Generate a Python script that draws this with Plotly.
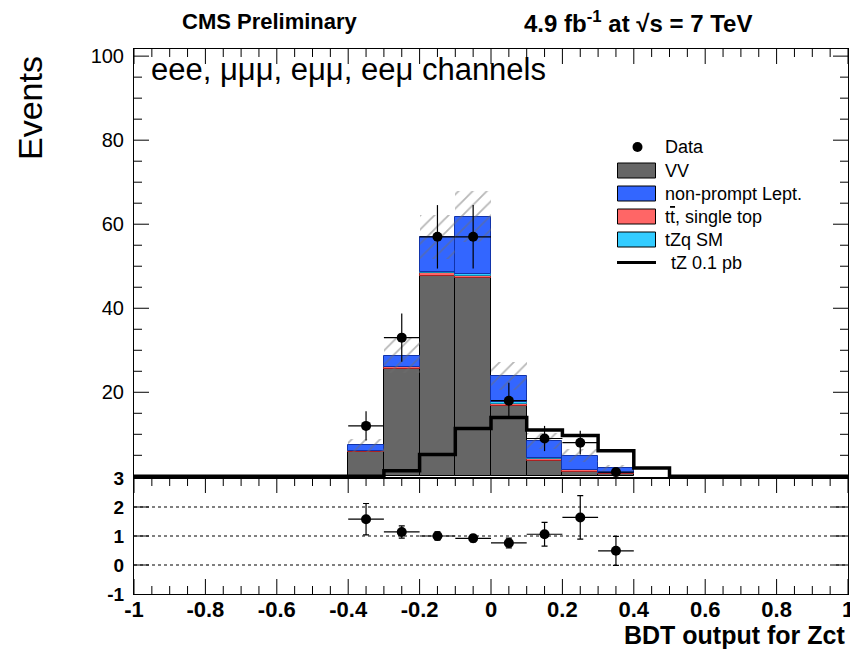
import numpy as np
import plotly.graph_objects as go

# ---------------- data ----------------
bin_width = 0.1
mc_centers = [-0.35, -0.25, -0.15, -0.05, 0.05, 0.15, 0.25, 0.35]
vv = [5.9, 25.5, 47.6, 47.1, 16.7, 3.7, 1.1, 0.6]
ttbar = [0.1, 0.4, 0.7, 0.5, 0.4, 0.4, 0.4, 0.1]
tzq = [0.05, 0.2, 0.3, 0.6, 0.7, 0.3, 0.1, 0.05]
nonprompt = [1.35, 2.6, 8.4, 13.6, 6.1, 4.0, 3.3, 1.25]
syst = [1.6, 4.2, 5.3, 6.1, 3.4, 2.0, 1.6, 0.8]
data = [12, 33, 57, 57, 18, 9, 8, 1]

tz_edges = [round(-1 + 0.1 * i, 2) for i in range(21)]
tz_signal = [0, 0, 0, 0, 0, 0, 0, 1.35, 5.2, 11.4, 14.0, 11.0, 9.7, 6.1, 2.0, 0, 0, 0, 0, 0]

ratio = [1.58, 1.14, 1.00, 0.92, 0.76, 1.06, 1.64, 0.49]
ratio_err = [0.54, 0.21, 0.14, 0.12, 0.17, 0.41, 0.75, 0.50]

x_ticks = [-1, -0.8, -0.6, -0.4, -0.2, 0, 0.2, 0.4, 0.6, 0.8, 1]
x_minor_step = 0.05
y_ticks = [20, 40, 60, 80, 100]
y_minor_step = 5
ratio_ticks = [-1, 0, 1, 2, 3]
ratio_lines = [0, 1, 2]

legend_labels = ["Data", "VV", "non-prompt Lept.", "t<span style='text-decoration:overline'>t</span>, single top", "tZq SM", "tZ 0.1 pb"]

# ---------------- styles ----------------
C_VV = "#666666"
C_NP = "#3366FF"
C_TT = "#FF6666"
C_TZQ = "#33CCFF"
FONT = "Liberation Sans, Arial, Helvetica, sans-serif"

W, H = 850, 650
L, R, T, B = 134, 2, 49, 56
PW, PH = W - L - R, H - T - B
split_px = 478
ratio_top = (H - B - split_px) / PH
YMAX = 101.7
YMIN = -0.4
MAJ, MIN = 15, 8

fig = go.Figure()

# stacked MC with explicit bases
comps = [(vv, C_VV, "#000000"), (ttbar, C_TT, "#aa2222"), (tzq, C_TZQ, "#1188aa"), (nonprompt, C_NP, "#1133aa")]
base = np.zeros(len(mc_centers))
for vals, col, lcol in comps:
    v = np.array(vals, dtype=float)
    fig.add_trace(go.Bar(x=mc_centers, y=v, base=base.copy(), width=bin_width,
                         marker=dict(color=col, line=dict(color=lcol, width=1)),
                         showlegend=False, xaxis="x", yaxis="y"))
    base = base + v
total = base

# uncertainty hatch
err = np.array(syst, dtype=float)
fig.add_trace(go.Bar(x=mc_centers, y=2 * err, base=total - err, width=bin_width,
                     marker=dict(color="rgba(0,0,0,0)", line=dict(width=0),
                                 pattern=dict(shape="/", fgcolor="#6f6f6f", bgcolor="rgba(0,0,0,0)",
                                              size=10, solidity=0.18)),
                     showlegend=False, xaxis="x", yaxis="y"))

# tZ signal step line
fig.add_trace(go.Scatter(x=tz_edges, y=tz_signal + [tz_signal[-1]], mode="lines",
                         line=dict(color="black", width=3.5, shape="hv"),
                         showlegend=False, xaxis="x", yaxis="y"))

# data
fig.add_trace(go.Scatter(x=mc_centers, y=data, mode="markers",
                         marker=dict(color="black", size=10),
                         error_y=dict(type="data", array=list(np.sqrt(data)), color="black", thickness=1.2, width=0),
                         error_x=dict(type="constant", value=bin_width / 2, color="black", thickness=1.2, width=0),
                         showlegend=False, xaxis="x", yaxis="y", cliponaxis=False))

# ratio
fig.add_trace(go.Scatter(x=mc_centers, y=ratio, mode="markers",
                         marker=dict(color="black", size=10),
                         error_y=dict(type="data", array=ratio_err, color="black", thickness=1.2, width=3),
                         error_x=dict(type="constant", value=bin_width / 2, color="black", thickness=1.2, width=0),
                         showlegend=False, xaxis="x2", yaxis="y2"))

shapes = []
for yv in ratio_lines:
    shapes.append(dict(type="line", xref="x2", yref="y2", x0=-1, x1=1, y0=yv, y1=yv,
                       line=dict(color="black", width=1, dash="dot"), layer="below"))

# ---- ROOT-style inside tick marks drawn as shapes ----
tick_line = dict(color="black", width=1)
x_minor = [round(v, 3) for v in np.arange(-1, 1.0001, x_minor_step) if min(abs(v - t) for t in x_ticks) > 1e-6]

def xtick(xref, xv, y_paper, length, down):
    dy = length / PH
    return dict(type="line", xref=xref, yref="paper", x0=xv, x1=xv,
                y0=y_paper, y1=y_paper - dy if down else y_paper + dy, line=tick_line, layer="above")

def ytick(yref, yv, left, length):
    dx = length / PW
    x0 = 0 if left else 1
    return dict(type="line", xref="paper", yref=yref, x0=x0, x1=x0 + dx if left else x0 - dx,
                y0=yv, y1=yv, line=tick_line, layer="above")

for xv in x_ticks:
    shapes.append(xtick("x", xv, 1, MAJ, True))            # main panel top
    shapes.append(xtick("x2", xv, ratio_top, MAJ, True))   # ratio top
    shapes.append(xtick("x2", xv, 0, MAJ, False))          # ratio bottom
for xv in x_minor:
    shapes.append(xtick("x", xv, 1, MIN, True))
    shapes.append(xtick("x2", xv, ratio_top, MIN, True))
    shapes.append(xtick("x2", xv, 0, MIN, False))
for yv in np.arange(0, 100.001, y_minor_step):
    ln = MAJ if any(abs(yv - t) < 1e-6 for t in y_ticks) else MIN
    if yv <= 0:
        continue
    shapes.append(ytick("y", float(yv), True, ln))
    shapes.append(ytick("y", float(yv), False, ln))
for yv in ratio_ticks[1:-1]:
    shapes.append(ytick("y2", yv, True, MAJ))
    shapes.append(ytick("y2", yv, False, MAJ))

# legend (drawn manually in paper coordinates)
def px_x(px):
    return (px - L) / PW

def px_y(py):
    return (H - B - py) / PH

annotations = []
rows_y = [147, 170.5, 193.5, 216.5, 239.5, 262.5]
box_colors = [None, C_VV, C_NP, C_TT, C_TZQ, None]
for i, (lab, yy) in enumerate(zip(legend_labels, rows_y)):
    if i == 0:
        shapes.append(dict(type="circle", xref="paper", yref="paper",
                           x0=px_x(632.5), x1=px_x(642.5), y0=px_y(152), y1=px_y(142),
                           fillcolor="black", line=dict(color="black", width=0)))
    elif i == 5:
        shapes.append(dict(type="line", xref="paper", yref="paper",
                           x0=px_x(617), x1=px_x(656), y0=px_y(yy), y1=px_y(yy),
                           line=dict(color="black", width=3)))
    else:
        shapes.append(dict(type="rect", xref="paper", yref="paper",
                           x0=px_x(617.5), x1=px_x(655.5), y0=px_y(yy + 7.5), y1=px_y(yy - 7.5),
                           fillcolor=box_colors[i], line=dict(color="black", width=1)))
    annotations.append(dict(xref="paper", yref="paper", x=px_x(663 if i < 5 else 669), y=px_y(yy),
                            text=lab, showarrow=False, xanchor="left", yanchor="middle",
                            font=dict(family=FONT, size=18, color="black")))

# texts
annotations += [
    dict(xref="paper", yref="paper", x=px_x(270), y=px_y(22), text="<b>CMS Preliminary</b>",
         showarrow=False, xanchor="center", yanchor="middle", font=dict(family=FONT, size=22, color="black")),
    dict(xref="paper", yref="paper", x=px_x(638), y=px_y(22),
         text="<b>4.9 fb<sup>-1</sup> at √s = 7 TeV</b>",
         showarrow=False, xanchor="center", yanchor="middle", font=dict(family=FONT, size=24, color="black")),
    dict(xref="paper", yref="paper", x=px_x(149), y=px_y(70), text="eee, μμμ, eμμ, eeμ channels",
         showarrow=False, xanchor="left", yanchor="middle", font=dict(family=FONT, size=31, color="black")),
    dict(xref="paper", yref="paper", x=px_x(30), y=px_y(108), text="Events", textangle=-90,
         showarrow=False, xanchor="center", yanchor="middle", font=dict(family=FONT, size=34, color="black")),
    dict(xref="paper", yref="paper", x=px_x(847), y=px_y(635), text="<b>BDT output for Zct</b>",
         showarrow=False, xanchor="right", yanchor="middle", font=dict(family=FONT, size=25, color="black")),
]

def axis(**kw):
    d = dict(showline=True, linecolor="black", linewidth=1, mirror=True, showgrid=False,
             zeroline=False, ticks="", automargin=False)
    d.update(kw)
    return d

fig.update_layout(
    width=W, height=H, margin=dict(l=L, r=R, t=T, b=B, autoexpand=False),
    paper_bgcolor="white", plot_bgcolor="white", barmode="overlay", bargap=0,
    showlegend=False, shapes=shapes, annotations=annotations,
    xaxis=axis(range=[-1, 1], domain=[0, 1], anchor="y", showticklabels=False,
               tickmode="array", tickvals=x_ticks),
    yaxis=axis(range=[YMIN, YMAX], domain=[ratio_top, 1], anchor="x",
               tickmode="array", tickvals=y_ticks, ticklabelstandoff=5,
               tickfont=dict(family=FONT, size=20, color="black")),
    xaxis2=axis(range=[-1, 1], domain=[0, 1], anchor="y2",
                tickmode="array", tickvals=x_ticks,
                ticktext=["<b>%g</b>" % v for v in x_ticks],
                ticklabeloverflow="allow", ticklabelstandoff=-4,
                tickfont=dict(family=FONT, size=22, color="black")),
    yaxis2=axis(range=[-1, 3], domain=[0, ratio_top], anchor="x2",
                tickmode="array", tickvals=ratio_ticks, ticktext=["<b>%g</b>" % v for v in ratio_ticks],
                ticklabelstandoff=5, tickfont=dict(family=FONT, size=19, color="black")),
)

fig.write_html("out.html")
